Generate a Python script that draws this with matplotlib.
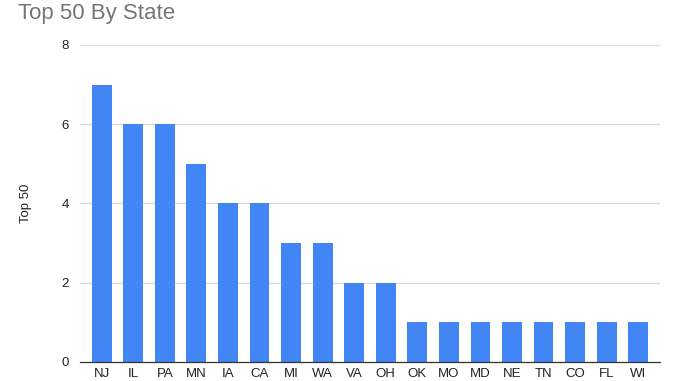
import matplotlib
matplotlib.use('Agg')
import matplotlib.pyplot as plt
import numpy as np

plt.rcParams['font.family'] = ['Liberation Sans', 'DejaVu Sans']

states = ['NJ', 'IL', 'PA', 'MN', 'IA', 'CA', 'MI', 'WA', 'VA', 'OH',
          'OK', 'MO', 'MD', 'NE', 'TN', 'CO', 'FL', 'WI']
top50 = [7, 6, 6, 5, 4, 4, 3, 3, 2, 2, 1, 1, 1, 1, 1, 1, 1, 1]

fig = plt.figure(figsize=(6.8, 3.81), dpi=100)
ax = fig.add_axes([0.1176, 0.0499, 0.8530, 0.8320])

x = np.arange(len(states))
ax.bar(x, top50, width=0.63, color='#4285F4', zorder=3)

ax.set_xlim(-0.69, len(states) - 1 + 0.69)
ax.set_ylim(0, 8)
ax.set_yticks([0, 2, 4, 6, 8])
ax.set_xticks(x)
ax.set_xticklabels(states)
ax.grid(axis='y', color='#d9d9d9', linewidth=0.8, zorder=0)
for s in ['top', 'right', 'left']:
    ax.spines[s].set_visible(False)
ax.spines['bottom'].set_color('#333333')
ax.spines['bottom'].set_linewidth(0.9)
ax.spines['bottom'].set_zorder(4)
ax.tick_params(axis='y', length=0, pad=8, labelsize=9.5, labelcolor='#222222')
ax.tick_params(axis='x', length=0, pad=4, labelsize=9.5, labelcolor='#222222')

ax.set_ylabel('Top 50', fontsize=9.5, color='#222222', labelpad=21)
fig.text(0.026, 0.965, 'Top 50 By State', fontsize=16, color='#757575',
         ha='left', va='center')

fig.savefig('out.png', dpi=100)
